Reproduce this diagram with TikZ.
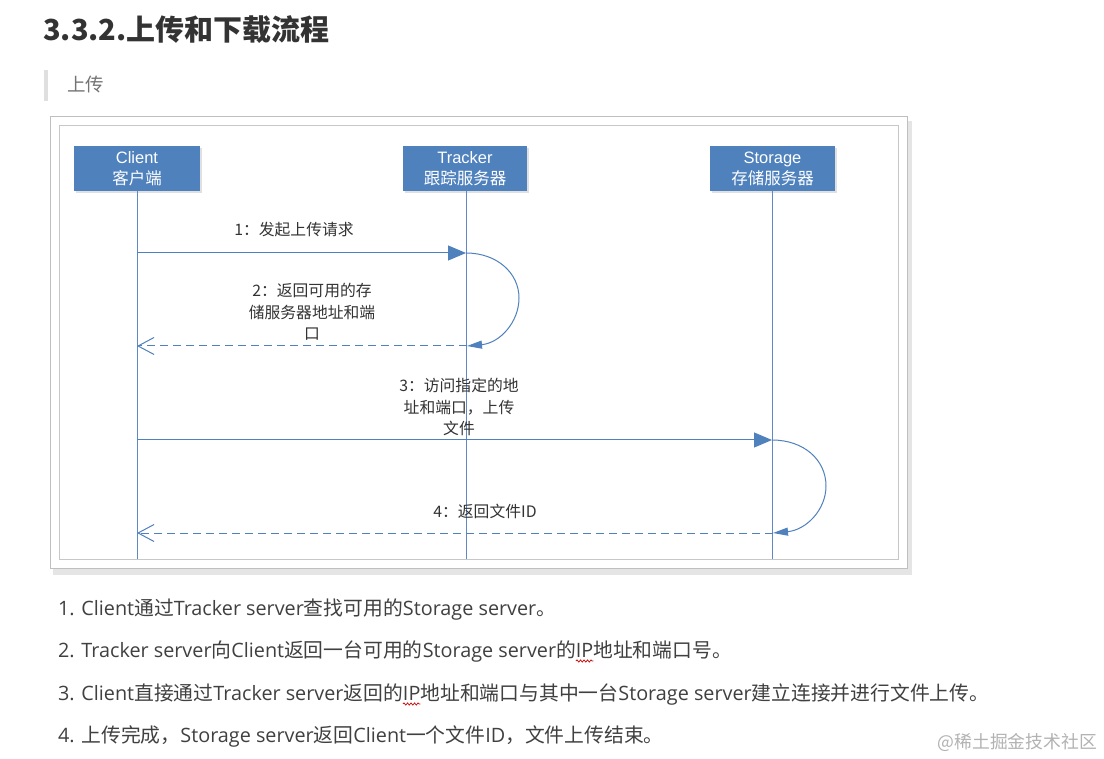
\documentclass[tikz,border=0pt]{standalone}
\usepackage{fontspec}
\setmainfont{Open Sans}
\newfontfamily\cjk{Noto Sans CJK SC}
\newfontfamily\arial{Liberation Sans}
\usetikzlibrary{arrows.meta,decorations.pathmorphing}
\newcommand\C[1]{{\cjk #1}}
\definecolor{boxblue}{RGB}{79,129,189}
\definecolor{lineblue}{RGB}{96,136,196}
\definecolor{txt}{RGB}{51,51,51}
\definecolor{bodytxt}{RGB}{64,64,64}
\tikzset{
  actor/.style={fill=boxblue, draw=none, minimum width=126pt, minimum height=45pt, inner sep=0pt,
    text=white, align=center, font=\fontsize{16.5}{21}\selectfont},
  life/.style={draw=lineblue, line width=0.9pt},
  msg/.style={draw=boxblue, line width=1pt, -{Triangle[length=18pt,width=15pt]}},
  ret/.style={draw=boxblue, line width=1pt, dash pattern=on 8pt off 5pt, -{Straight Barb[length=16pt,width=17pt]}},
  loopy/.style={draw=boxblue, line width=1pt, -{Triangle[length=15pt,width=8pt]}},
  lbl/.style={text=txt, align=center, inner sep=0pt, font=\cjk\fontsize{15.8}{21.5}\selectfont},
  body/.style={anchor=base west, inner sep=0pt, outer sep=0pt, text=bodytxt, font=\fontsize{19.8}{23}\selectfont},
  squig/.style={draw=red!80!black, line width=0.7pt, decorate, decoration={snake, amplitude=1.1pt, segment length=3.5pt}}
}
\begin{document}
\begin{tikzpicture}[x=1pt,y=-1pt]
\useasboundingbox (0,0) rectangle (1104,759);
\fill[white] (0,0) rectangle (1104,759);

% heading
\node[anchor=west, inner sep=0pt, text=txt, font=\cjk\bfseries\fontsize{29}{34}\selectfont] (title) at (43,30) {3.3.2.上传和下载流程};
% blockquote
\fill[gray!25] (44,70) rectangle (48,101);
\node[anchor=west, inner sep=0pt, text=black!55, font=\cjk\fontsize{18.5}{22}\selectfont] (quote) at (67,85) {上传};

% image frame
\fill[black!10] (53,121) rectangle (912,575);
\filldraw[fill=white, draw=black!25, line width=1pt] (50,117) rectangle (907,568);
\draw[black!22, line width=1pt] (59,126) rectangle (898,559);

% actors
\fill[black!12] (76,148) rectangle (202,193);
\fill[black!12] (405,148) rectangle (529,193);
\fill[black!12] (712,148) rectangle (837,193);
\node[actor] (client) at (137,168.5) {{\arial Client}\\\C{客户端}};
\node[actor, minimum width=124pt] (tracker) at (465,168.5) {{\arial Tracker}\\\C{跟踪服务器}};
\node[actor, minimum width=125pt] (storage) at (772.5,168.5) {{\arial Storage}\\\C{存储服务器}};

% lifeline ends
\coordinate (clE) at (137,559);
\coordinate (trE) at (466,559);
\coordinate (stE) at (772,559);
\draw[life] (client.south -| clE) -- (clE);
\draw[life] (tracker.south -| trE) -- (trE);
\draw[life] (storage.south -| stE) -- (stE);

% message points
\coordinate (c1) at (137,253);
\coordinate (t1) at (466,253);
\coordinate (t2) at (467,346);
\coordinate (c2) at (137,346);
\coordinate (c3) at (137,440);
\coordinate (s3) at (772,440);
\coordinate (s4) at (773,533);
\coordinate (c4) at (137,533);

\draw[msg] (c1) -- (t1);
\draw[loopy] (t1) .. controls (497,253) and (519,273) .. (519,298) .. controls (519,322) and (500,343) .. (t2);
\draw[ret] (t2) -- (c2);
\draw[msg] (c3) -- (s3);
\draw[loopy] (s3) .. controls (804,440) and (826,460) .. (826,486) .. controls (826,510) and (806,530) .. (s4);
\draw[ret] (s4) -- (c4);

% labels
\node[lbl] (m1) at (294,230) {1：发起上传请求};
\node[lbl] (m2) at (312,312) {2：返回可用的存\\储服务器地址和端\\口};
\node[lbl] (m3) at (459,407) {3：访问指定的地\\址和端口，上传\\文件};
\node[lbl] (m4) at (485,511) {4：返回文件ID};

% body text
\node[body] (l1) at (58,615) {1. Client\C{通过}Tracker server\C{查找可用的}Storage server\C{。}};
\node[body] (l2a) at (58,657) {2. Tracker server\C{向}Client\C{返回一台可用的}Storage server\C{的}};
\node[body] (ip2) at (l2a.base east) {IP};
\node[body] (l2b) at (ip2.base east) {\C{地址和端口号。}};
\node[body] (l3a) at (58,700) {3. Client\C{直接通过}Tracker server\C{返回的}};
\node[body] (ip3) at (l3a.base east) {IP};
\node[body] (l3b) at (ip3.base east) {\C{地址和端口与其中一台}Storage server\C{建立连接并进行文件上传。}};
\node[body] (l4) at (58,742) {4. \C{上传完成，}Storage server\C{返回}Client\C{一个文件}ID\C{，文件上传结束。}};
\draw[squig] ([yshift=-4pt]ip2.base west) -- ([yshift=-4pt]ip2.base east);
\draw[squig] ([yshift=-4pt]ip3.base west) -- ([yshift=-4pt]ip3.base east);

% watermark
\node[anchor=east, inner sep=0pt, text=black!30, font=\cjk\fontsize{17.8}{20}\selectfont] (wm) at (1097,742) {@稀土掘金技术社区};
\end{tikzpicture}
\end{document}
